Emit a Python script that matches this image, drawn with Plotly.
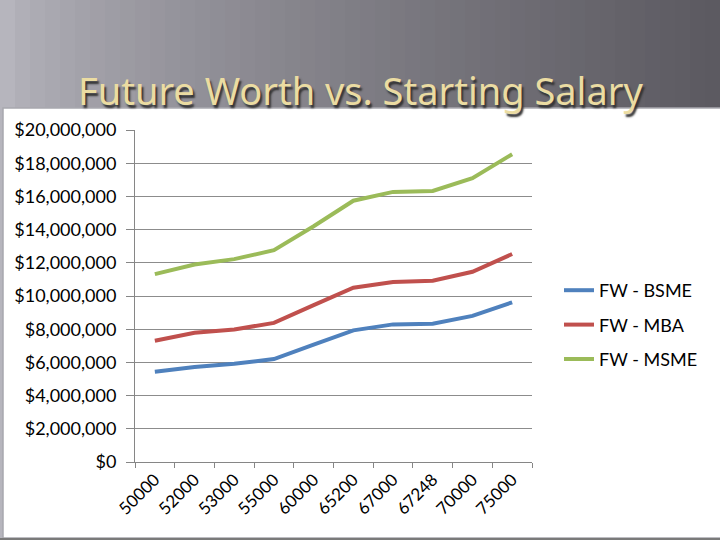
import plotly.graph_objects as go

# starting salaries (category axis) and future worth of each degree path
salaries = ["50000", "52000", "53000", "55000", "60000",
            "65200", "67000", "67248", "70000", "75000"]
fw_bsme = [5.44e6, 5.72e6, 5.92e6, 6.20e6, 7.07e6,
           7.93e6, 8.29e6, 8.33e6, 8.80e6, 9.62e6]
fw_mba = [7.30e6, 7.78e6, 7.98e6, 8.38e6, 9.45e6,
          10.50e6, 10.84e6, 10.92e6, 11.46e6, 12.53e6]
fw_msme = [11.32e6, 11.90e6, 12.22e6, 12.76e6, 14.20e6,
           15.74e6, 16.27e6, 16.33e6, 17.10e6, 18.54e6]

W, H = 720, 540
ML, MR, MT, MB = 135, 188, 130, 78
PW, PH = W - ML - MR, H - MT - MB


def px_x(x):
    return (x - ML) / PW


def px_y(y):
    return (H - MB - y) / PH


FONT = "Lato"

fig = go.Figure()
series = [("FW - BSME", fw_bsme, "#4f81bd"),
          ("FW - MBA", fw_mba, "#c0504d"),
          ("FW - MSME", fw_msme, "#9bbb59")]
for name, vals, col in series:
    fig.add_trace(go.Scatter(x=salaries, y=vals, name=name, mode="lines",
                             legendgroup=name,
                             line=dict(color=col, width=4)))

# slide background: grey gradient strips, then the white content box
shapes = []
n = 48
c0, c1 = (182, 181, 189), (92, 90, 97)
for i in range(n):
    t = i / (n - 1)
    r, g, b = (round(c0[k] + (c1[k] - c0[k]) * t ** 0.7) for k in range(3))
    shapes.append(dict(type="rect", xref="paper", yref="paper", layer="below",
                       x0=px_x(i * W / n), x1=px_x((i + 1) * W / n + 1),
                       y0=px_y(0), y1=px_y(H), line_width=0,
                       fillcolor=f"rgb({r},{g},{b})"))
shapes.append(dict(type="rect", xref="paper", yref="paper", layer="below",
                   x0=px_x(3), x1=px_x(W + 5), y0=px_y(108), y1=px_y(538),
                   fillcolor="white", line=dict(color="#a8a8ae", width=1.5)))
shapes.append(dict(type="line", xref="paper", yref="paper", layer="below",
                   x0=px_x(0), x1=px_x(W), y0=px_y(539), y1=px_y(539),
                   line=dict(color="#7a7a7a", width=2)))

fig.add_annotation(text="Future Worth vs. Starting Salary",
                   xref="paper", yref="paper", x=px_x(360), y=px_y(62),
                   showarrow=False,
                   font=dict(family="Noto Sans", size=38, color="#ebdca2",
                             shadow="2px 3px 2px #333333"))

fig.update_layout(
    width=W, height=H,
    margin=dict(l=ML, r=MR, t=MT, b=MB, autoexpand=False),
    paper_bgcolor="#a9a9b0",
    plot_bgcolor="rgba(0,0,0,0)",
    shapes=shapes,
    font=dict(family=FONT, size=18, color="black"),
    legend=dict(x=px_x(559), y=px_y(272), xanchor="left", yanchor="top",
                bgcolor="rgba(0,0,0,0)", font=dict(size=18),
                tracegroupgap=8),
    showlegend=True,
)
fig.update_xaxes(type="category", tickson="boundaries", ticks="outside",
                 ticklen=5, tickcolor="#868686", showline=True,
                 linecolor="#868686", linewidth=1, showgrid=False,
                 tickangle=-45, tickfont=dict(size=17), range=[-0.5, 9.5],
                 automargin=False)
fig.update_yaxes(range=[0, 20e6], dtick=2e6, tickprefix="$", tickformat=",d",
                 ticks="outside", ticklen=8, tickcolor="#868686",
                 ticklabelstandoff=6,
                 showline=True, linecolor="#868686", linewidth=1,
                 gridcolor="#8c8c8c", gridwidth=1, zeroline=False,
                 automargin=False)

fig.write_html("out.html", config={"displayModeBar": False},
               post_script="document.body.style.margin='0';")
